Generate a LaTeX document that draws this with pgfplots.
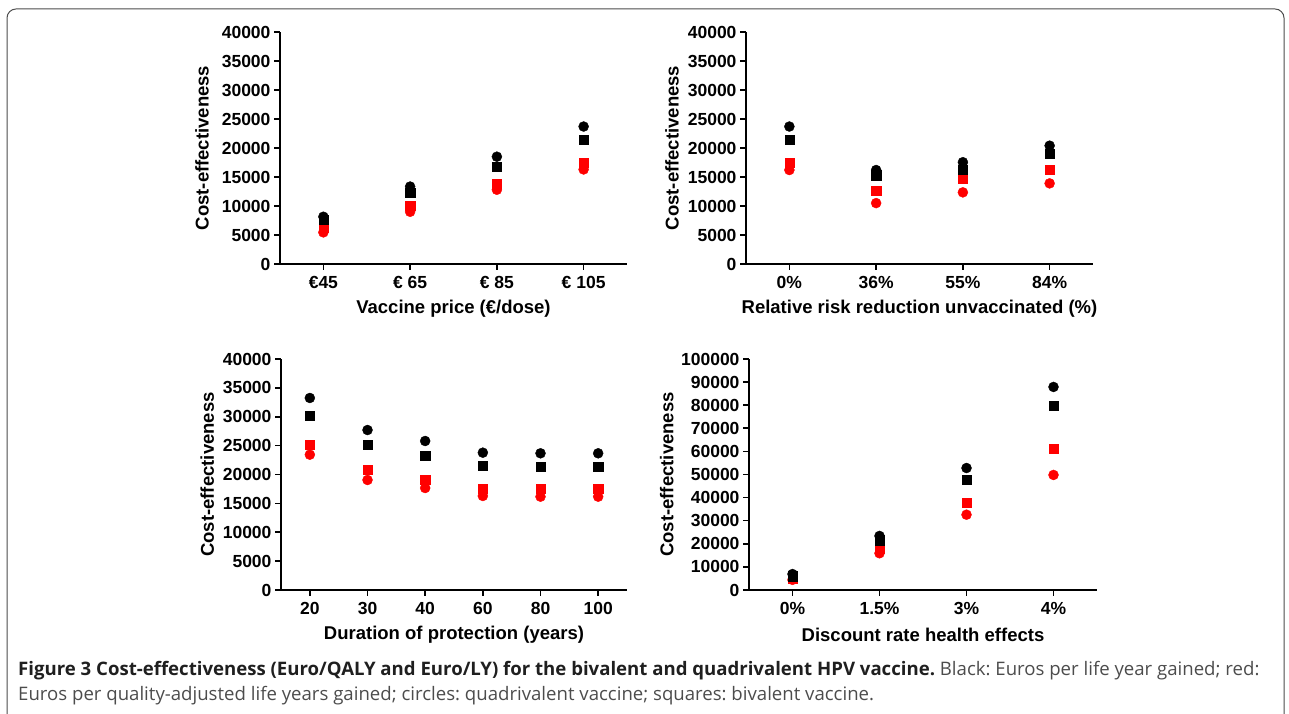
\documentclass[border=0pt]{standalone}
\usepackage{pgfplots}
\pgfplotsset{compat=1.18}
\usepackage{fontspec}
\setmainfont{Liberation Sans}
\newfontfamily\capfont{Open Sans}
\frenchspacing

\pgfplotsset{
  ce/.style={
    scale only axis, clip=false,
    axis x line*=bottom, axis y line*=left,
    axis line style={line width=1.6pt,-},
    tick style={line width=1.6pt, black},
    tick align=outside, major tick length=6pt,
    ymin=0, scaled y ticks=false,
    /pgf/number format/assume math mode=true,
    /pgf/number format/fixed,
    /pgf/number format/1000 sep={},
    tick label style={font=\fontsize{17.5}{18}\selectfont\bfseries},
    xticklabel style={yshift=-3pt},
    label style={font=\fontsize{18.5}{20}\selectfont\bfseries},
    ylabel={Cost-effectiveness},
    xlabel style={at={(axis description cs:0.5,-0.194)}, anchor=center},
  },
  bc/.style={only marks, mark=*, mark size=5pt, black},
  bs/.style={only marks, mark=square*, mark size=4.6pt, black},
  rc/.style={only marks, mark=*, mark size=5pt, red},
  rs/.style={only marks, mark=square*, mark size=4.6pt, red},
}

\begin{document}
\begin{tikzpicture}[x=1pt,y=1pt]
\useasboundingbox (0,0) rectangle (1289,714);
\draw[line width=1pt, rounded corners=9pt, black!70] (7,-20) rectangle (1284,705);

% vaccine price
\begin{axis}[ce, at={(280pt,450pt)}, anchor=south west, width=347pt, height=232pt,
  xmin=-0.5, xmax=3.5, xtick={0,1,2,3}, xticklabels={€45,€ 65,€ 85,€ 105},
  ymax=40000, ytick distance=5000,
  xlabel={Vaccine price (€/dose)},
  ylabel style={at={(axis description cs:-0.2248,0.5)}, anchor=center}]
\addplot[rc] coordinates {(0,5450) (1,9000) (2,12800) (3,16300)};
\addplot[rs] coordinates {(0,6200) (1,10100) (2,13800) (3,17500)};
\addplot[bs] coordinates {(0,7600) (1,12350) (2,16800) (3,21400)};
\addplot[bc] coordinates {(0,8150) (1,13350) (2,18500) (3,23700)};
\end{axis}

% relative risk reduction
\begin{axis}[ce, at={(746pt,450pt)}, anchor=south west, width=347pt, height=232pt,
  xmin=-0.5, xmax=3.5, xtick={0,1,2,3}, xticklabels={0\%,36\%,55\%,84\%},
  ymax=40000, ytick distance=5000,
  xlabel={Relative risk reduction unvaccinated (\%)},
  ylabel style={at={(axis description cs:-0.213,0.5)}, anchor=center}]
\addplot[rc] coordinates {(0,16200) (1,10500) (2,12350) (3,13900)};
\addplot[rs] coordinates {(0,17500) (1,12600) (2,14650) (3,16300)};
\addplot[bs] coordinates {(0,21400) (1,15300) (2,16300) (3,19000)};
\addplot[bc] coordinates {(0,23700) (1,16200) (2,17550) (3,20400)};
\end{axis}

% duration of protection
\begin{axis}[ce, at={(281pt,124pt)}, anchor=south west, width=346pt, height=231pt,
  xmin=-0.5, xmax=5.5, xtick={0,1,2,3,4,5}, xticklabels={20,30,40,60,80,100},
  ymax=40000, ytick distance=5000,
  xlabel={Duration of protection (years)},
  ylabel style={at={(axis description cs:-0.213,0.5)}, anchor=center}]
\addplot[rc] coordinates {(0,23430) (1,19050) (2,17660) (3,16280) (4,16160) (5,16160)};
\addplot[rs] coordinates {(0,25100) (1,20780) (2,19160) (3,17600) (4,17490) (5,17490)};
\addplot[bs] coordinates {(0,30190) (1,25110) (2,23260) (3,21470) (4,21360) (5,21360)};
\addplot[bc] coordinates {(0,33250) (1,27700) (2,25800) (3,23780) (4,23670) (5,23670)};
\end{axis}

% discount rate
\begin{axis}[ce, at={(749pt,124pt)}, anchor=south west, width=348pt, height=231pt,
  xmin=-0.5, xmax=3.5, xtick={0,1,2,3}, xticklabels={0\%,1.5\%,3\%,4\%},
  ymax=100000, ytick distance=10000,
  xlabel={Discount rate health effects},
  ylabel style={at={(axis description cs:-0.236,0.5)}, anchor=center}]
\addplot[rc] coordinates {(0,4400) (1,15900) (2,32600) (3,49800)};
\addplot[rs] coordinates {(0,4800) (1,18000) (2,37700) (3,61300)};
\addplot[bs] coordinates {(0,6000) (1,21600) (2,47800) (3,79700)};
\addplot[bc] coordinates {(0,6900) (1,23400) (2,52800) (3,87900)};
\end{axis}

\node[anchor=base west, inner sep=0pt, font=\capfont\fontsize{18.6}{22}\selectfont, text=black!70] at (18,38)
  {\textbf{\color{black!88}Figure 3 Cost-effectiveness (Euro/QALY and Euro/LY) for the bivalent and quadrivalent HPV vaccine.} Black: Euros per life year gained; red:};
\node[anchor=base west, inner sep=0pt, font=\capfont\fontsize{18.6}{22}\selectfont, text=black!70] at (18,13)
  {Euros per quality-adjusted life years gained; circles: quadrivalent vaccine; squares: bivalent vaccine.};
\end{tikzpicture}
\end{document}
